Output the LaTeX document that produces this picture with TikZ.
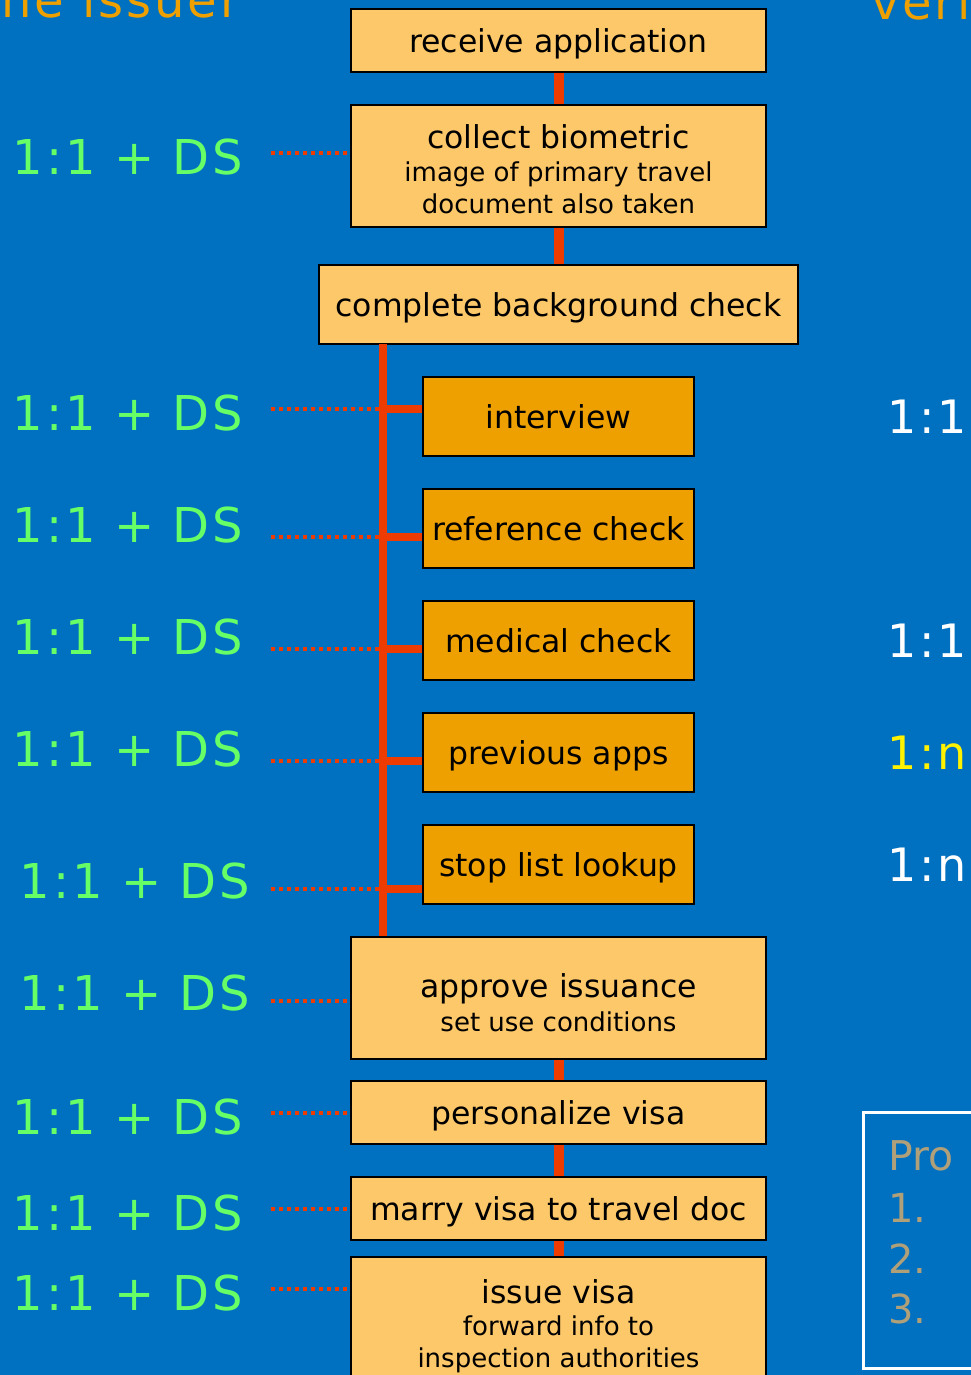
\documentclass[tikz,border=0pt]{standalone}
\usepackage{fontspec}
\setmainfont{DejaVu Sans}
\newfontfamily\widefont[LetterSpace=6]{DejaVu Sans}
\definecolor{slide}{HTML}{0070C0}
\definecolor{boxlight}{HTML}{FCC86A}
\definecolor{boxdark}{HTML}{EDA000}
\definecolor{conn}{HTML}{EE3C00}
\definecolor{dsgreen}{HTML}{66FF66}
\definecolor{tan}{HTML}{B0A07A}
\begin{document}
\begin{tikzpicture}[x=1pt,y=-1pt,
    stepbox/.style={draw=black,line width=2pt,fill=boxlight,minimum width=415pt,
      inner sep=0pt,align=center,text depth=0pt,font=\fontsize{31.5}{33}\selectfont},
    multibox/.style={stepbox,minimum height=122pt,font=\fontsize{26}{32}\selectfont},
    subbox/.style={stepbox,fill=boxdark,minimum width=271pt,minimum height=79pt},
    link/.style={draw=conn,line width=10pt},
    trunkline/.style={draw=conn,line width=8pt},
    dots/.style={draw=conn,line width=3.5pt,dash pattern=on 4pt off 4pt},
    ds/.style={text=dsgreen,inner sep=0pt,anchor=east,font=\widefont\fontsize{48}{48}\selectfont},
    match/.style={inner sep=0pt,anchor=west,font=\widefont\fontsize{46}{46}\selectfont}]
  \useasboundingbox (0,0) rectangle (971,1375);
  \fill[slide] (0,0) rectangle (971,1375);
  \clip (0,0) rectangle (971,1375);

  \node[text=boxdark,inner sep=0pt,anchor=base east,font=\widefont\fontsize{48}{48}\selectfont] (issuer) at (240,18) {the issuer};
  \node[text=boxdark,inner sep=0pt,anchor=base west,font=\widefont\fontsize{48}{48}\selectfont] (verifier) at (871,20) {veri};

  \node[stepbox,minimum height=63pt] (recv) at (558.5,40.5) {receive application};
  \node[multibox] (bio) at (558.5,166)
    {\rule{0pt}{30pt}{\fontsize{31.5}{33}\selectfont collect biometric}\\image of primary travel\\document also taken};
  \node[stepbox,minimum width=479pt,minimum height=79pt] (bg) at (558.5,304.5) {complete background check};
  \node[subbox] (interview) at (558.5,416.5) {interview};
  \node[subbox] (refchk) at (558.5,528.5) {reference check};
  \node[subbox] (medchk) at (558.5,640.5) {medical check};
  \node[subbox] (prevapps) at (558.5,752.5) {previous apps};
  \node[subbox] (stoplist) at (558.5,864.5) {stop list lookup};
  \node[multibox,font=\fontsize{26}{34}\selectfont] (approve) at (558.5,998)
    {\rule{0pt}{32pt}{\fontsize{31.5}{33}\selectfont approve issuance}\\set use conditions};
  \node[stepbox,minimum height=63pt] (persvisa) at (558.5,1112.5) {personalize visa};
  \node[stepbox,minimum height=63pt] (marry) at (558.5,1208.5) {marry visa to travel doc};
  \node[multibox] (issue) at (558.5,1318)
    {\rule{0pt}{34pt}{\fontsize{31.5}{33}\selectfont issue visa}\\forward info to\\inspection authorities};

  \draw[link] (recv) -- (bio);
  \draw[link] (bio) -- (bg);
  \draw[link] (approve) -- (persvisa);
  \draw[link] (persvisa) -- (marry);
  \draw[link] (marry) -- (issue);
  \coordinate (trunk) at (383,344);
  \draw[trunkline] (trunk) -- (trunk |- approve.north);

  \foreach \n/\ly/\dy/\xr/\tgt in {1/157/153/243/bio.west, 2/413/409/243/trunk,
      3/525/537/243/trunk, 4/637/649/243/trunk, 5/749/761/243/trunk,
      6/881/889/250/trunk, 7/993/1001/250/approve.west, 8/1117/1113/243/persvisa.west,
      9/1213/1209/243/marry.west, 10/1293/1289/243/issue.west} {%
    \node[ds] (lbl\n) at (\xr,\ly) {1:1 + DS};
    \coordinate (d\n) at (271,\dy);
    \draw[dots] (d\n) -- (\tgt |- d\n);
  }
  \foreach \n/\b in {2/interview,3/refchk,4/medchk,5/prevapps,6/stoplist}
    \draw[trunkline] (trunk |- d\n) -- (\b.west |- d\n);

  \node[match,text=white] (m1) at (887,417) {1:1};
  \node[match,text=white] (m2) at (887,641) {1:1};
  \node[match,text=yellow] (m3) at (887,753) {1:n};
  \node[match,text=white] (m4) at (887,865) {1:n};

  \draw[white,line width=3pt] (863,1112) rectangle (995,1368);
  \node[text=tan,inner sep=0pt,anchor=base west,font=\fontsize{41}{41}\selectfont] (proc) at (888,1170) {Pro};
  \foreach \k/\by in {1/1222,2/1273,3/1323}
    \node[text=tan,inner sep=0pt,anchor=base west,font=\fontsize{40}{40}\selectfont] (item\k) at (888,\by) {\k.};
\end{tikzpicture}
\end{document}
